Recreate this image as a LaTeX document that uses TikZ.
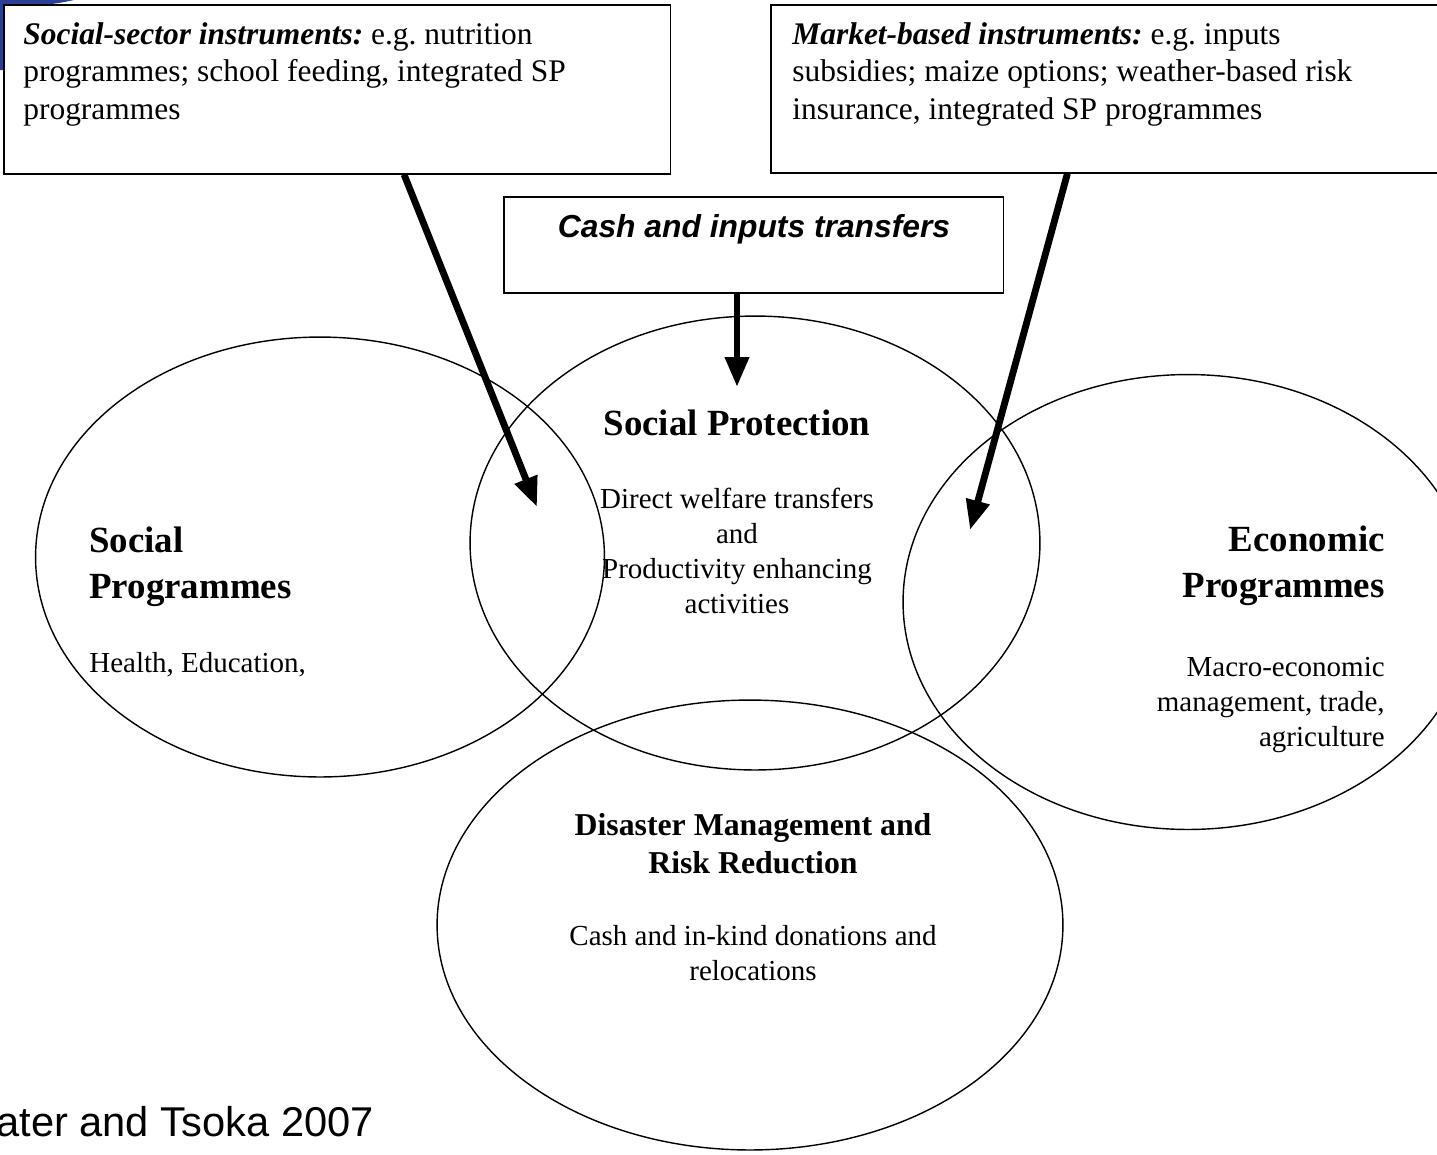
\documentclass[tikz,border=0pt]{standalone}
\usepackage{fontspec}
\setmainfont{Liberation Serif}
\setsansfont{Liberation Sans}
\usetikzlibrary{shapes.geometric,arrows.meta,calc}
\frenchspacing

\definecolor{logoblue}{RGB}{45,62,150}

\tikzset{
  instrbox/.style={draw, rectangle, line width=0.9pt, inner sep=0pt, anchor=north west},
  ring/.style={draw, ellipse, line width=0.8pt, inner sep=0pt},
  fatarrow/.style={line width=3.9pt, -{Triangle[width=13pt,length=17pt]}},
  boxtext/.style={inner sep=0pt, align=left, anchor=base west, font=\fontsize{17.9}{21.2}\selectfont},
  bodytext/.style={inner sep=0pt, font=\fontsize{16.5}{19.9}\selectfont},
  headtext/.style={inner sep=0pt, font=\fontsize{21}{26}\selectfont\bfseries},
}

\begin{document}
\begin{tikzpicture}[x=0.02cm, y=-0.02cm]

  \useasboundingbox (0,0) rectangle (1437,1154);
  \clip (0,0) rectangle (1437,1154);

  % corner of a logo behind the slide
  \fill[logoblue] (0,0) -- (74,0) .. controls (50,5) .. (3,5) -- (3,70) -- (0,70) -- cycle;

  % instrument boxes
  \node[instrbox, minimum width=13.34cm, minimum height=3.38cm] (socbox) at (3,4) {};
  \node[instrbox, minimum width=14cm, minimum height=3.36cm] (mktbox) at (770,4) {};
  \node[instrbox, minimum width=10cm, minimum height=1.92cm] (cashbox) at (503,196) {};

  % (base of a multi-line node = its last line)
  \node[boxtext] (soctext) at (23,119)
    {\textbf{\textit{Social-sector instruments:}} e.g. nutrition\\
     programmes; school feeding, integrated SP\\
     programmes};
  \node[boxtext] (mkttext) at (792,119)
    {\textbf{\textit{Market-based instruments:}} e.g. inputs\\
     subsidies; maize options; weather-based risk\\
     insurance, integrated SP programmes};
  \node[inner sep=0pt, anchor=base, font=\fontsize{18.1}{22}\selectfont\sffamily\bfseries\itshape]
    (cashtext) at (754,237) {Cash and inputs transfers};

  % the four areas
  \node[ring, minimum width=11.4cm, minimum height=9.08cm] (prot) at (755,543) {};
  \node[ring, minimum width=11.38cm, minimum height=8.8cm] (socprog) at (320,557) {};
  \node[ring, minimum width=11.4cm, minimum height=9.1cm] (econ) at (1188,602) {};
  \node[ring, minimum width=12.52cm, minimum height=9cm] (disas) at (750,925) {};

  \node[headtext, anchor=base] (prothead) at (737,435) {Social Protection};
  \node[bodytext, anchor=base, align=center] (protbody) at (737,613)
    {Direct welfare transfers\\ and\\ Productivity enhancing\\ activities};

  \node[headtext, anchor=base west, align=left] (sochead) at (89,598) {Social\\ Programmes};
  \node[bodytext, anchor=base west] (socbody) at (89,672) {Health, Education,};

  \node[headtext, anchor=base east, align=right] (econhead) at (1385,597) {Economic\\ Programmes};
  \node[bodytext, anchor=base east, align=right] (econbody) at (1385,746)
    {Macro-economic\\ management, trade,\\ agriculture};

  \node[inner sep=0pt, anchor=base, align=center, font=\fontsize{18.1}{21.2}\selectfont\bfseries]
    (disashead) at (753,873) {Disaster Management and\\ Risk Reduction};
  \node[bodytext, anchor=base, align=center] (disasbody) at (753,980)
    {Cash and in-kind donations and\\ relocations};

  \node[inner sep=0pt, anchor=base west, font=\fontsize{23.7}{28}\selectfont\sffamily]
    (source) at (-4,1136) {ater and Tsoka 2007};

  % arrows into the overlaps
  \coordinate (socin) at (537,507);
  \coordinate (protin) at (737,387);
  \coordinate (econin) at (970,530);

  \draw[fatarrow] ($(socbox.south west)!0.6!(socbox.south east)$) -- (socin);
  \draw[fatarrow] (cashbox.south -| protin) -- (protin);
  \draw[fatarrow] ($(mktbox.south west)!0.424!(mktbox.south east)$) -- (econin);

\end{tikzpicture}
\end{document}
